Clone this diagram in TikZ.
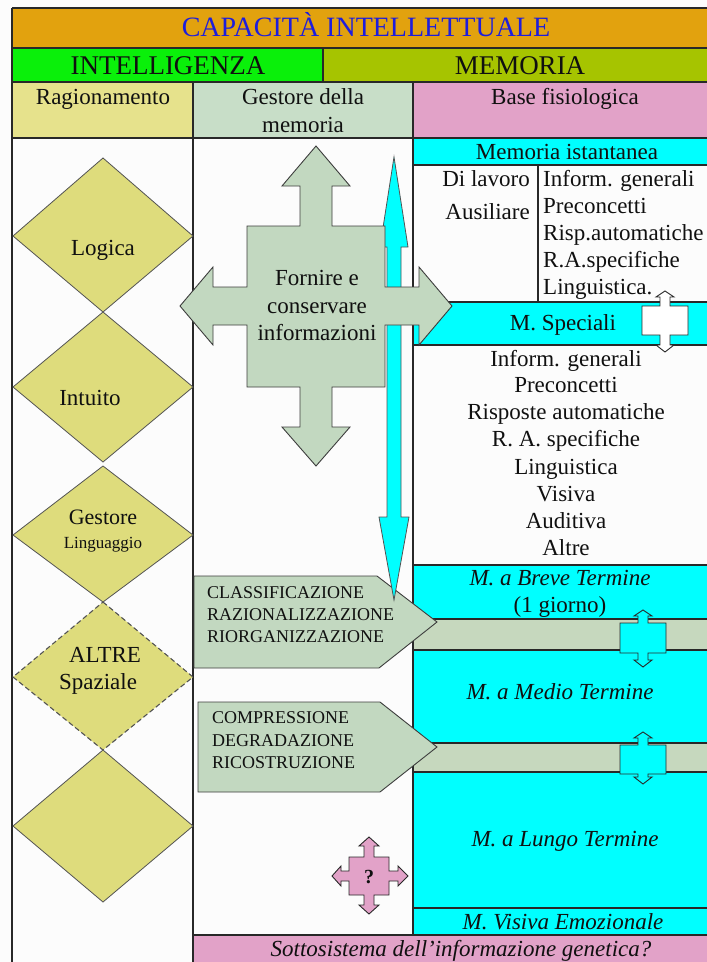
\documentclass[tikz,border=0pt]{standalone}
\usepackage{fontspec}
\setmainfont{Liberation Serif}
\definecolor{orangeT}{RGB}{226,162,14}
\definecolor{greenI}{RGB}{10,240,10}
\definecolor{oliveM}{RGB}{166,196,0}
\definecolor{khaki}{RGB}{230,226,140}
\definecolor{sage}{RGB}{200,222,200}
\definecolor{pinkB}{RGB}{226,162,200}
\definecolor{diaF}{RGB}{222,220,124}
\definecolor{arrG}{RGB}{194,216,192}
\definecolor{bandG}{RGB}{198,216,190}
\definecolor{cyanC}{RGB}{0,255,255}
\definecolor{lineC}{RGB}{40,40,40}
\definecolor{txtC}{RGB}{16,16,16}
\definecolor{titleC}{RGB}{30,30,220}
\definecolor{bgC}{RGB}{252,252,252}
\newcommand\fA{\fontsize{23}{27}\selectfont}
\newcommand\fB{\fontsize{18}{21}\selectfont}
\newcommand\udcall[6]{\draw[#1] (#2,#3) -- ({#2+9},{#3+6}) -- ({#2+5},{#3+6}) -- ({#2+5},#4) -- ({#2+23},#4) -- ({#2+23},#5) -- ({#2+5},#5) -- ({#2+5},{#6-7}) -- ({#2+9},{#6-7}) -- (#2,#6) -- ({#2-9},{#6-7}) -- ({#2-5},{#6-7}) -- ({#2-5},#5) -- ({#2-23},#5) -- ({#2-23},#4) -- ({#2-5},#4) -- ({#2-5},{#3+6}) -- ({#2-9},{#3+6}) -- cycle;}
\begin{document}
\begin{tikzpicture}[x=1pt,y=-1pt,
  ln/.style={draw=lineC, line width=1.2pt},
  dia/.style={draw=lineC!80, line width=0.8pt, fill=diaF},
  shp/.style={draw=lineC!90, line width=0.9pt, fill=arrG},
  lbl/.style={inner sep=0pt, anchor=center, text height=14pt, text depth=0pt, font=\fA, text=txtC},
  lbll/.style={lbl, anchor=west},
  lblr/.style={lbl, anchor=east},
  ital/.style={lbl, font=\fA\itshape},
  caps/.style={inner sep=0pt, anchor=west, text height=12pt, text depth=0pt, font=\fB, text=txtC},
  hdr/.style={inner sep=0pt, anchor=center, text height=18pt, text depth=0pt, font=\fontsize{27}{30}\selectfont, text=txtC}
]
\useasboundingbox (0,0) rectangle (707,962);
\fill[bgC] (0,0) rectangle (707,962);
% header fills
\fill[orangeT] (12,8) rectangle (707,48);
\fill[greenI] (12,48) rectangle (323,82);
\fill[oliveM] (323,48) rectangle (707,82);
\fill[khaki] (12,82) rectangle (193,138);
\fill[sage] (193,82) rectangle (413,138);
\fill[pinkB] (413,82) rectangle (707,138);
% right column fills
\fill[cyanC] (413,138) rectangle (707,165);
\fill[cyanC] (413,302) rectangle (707,345);
\fill[cyanC] (413,565) rectangle (707,935);
\fill[bandG] (413,619) rectangle (707,650);
\fill[bandG] (413,743) rectangle (707,772);
\fill[pinkB] (193,935) rectangle (707,962);
% lines
\draw[ln] (12,8) -- (707,8);
\draw[ln] (12,48) -- (707,48);
\draw[ln] (12,82) -- (707,82);
\draw[ln] (12,138) -- (707,138);
\draw[ln] (12,8) -- (12,962);
\draw[ln] (323,48) -- (323,82);
\draw[ln] (193,82) -- (193,962);
\draw[ln] (413,82) -- (413,935);
\draw[ln] (413,165) -- (707,165);
\draw[ln] (538,165) -- (538,302);
\draw[ln] (413,302) -- (707,302);
\draw[ln] (413,345) -- (707,345);
\draw[ln] (413,565) -- (707,565);
\draw[ln] (413,619) -- (707,619);
\draw[ln] (413,650) -- (707,650);
\draw[ln] (413,743) -- (707,743);
\draw[ln] (413,772) -- (707,772);
\draw[ln] (413,908) -- (707,908);
\draw[ln] (193,935) -- (707,935);
% diamonds
\draw[dia] (103,158) -- (193,236) -- (103,312) -- (13,236) -- cycle;
\draw[dia] (103,312) -- (193,387) -- (103,462) -- (13,387) -- cycle;
\draw[dia] (103,466) -- (193,535) -- (103,602) -- (13,535) -- cycle;
\draw[dia, line width=1.1pt, dash pattern=on 5pt off 3pt] (103,602) -- (193,677) -- (103,750) -- (13,677) -- cycle;
\draw[dia] (103,750) -- (193,826) -- (103,902) -- (13,826) -- cycle;
% pentagons
\draw[shp] (194,576) -- (377,576) -- (437,622) -- (379,668) -- (194,668) -- cycle;
\draw[shp] (198,702) -- (380,702) -- (437,747) -- (380,792) -- (198,792) -- cycle;
% callouts
\udcall{draw=lineC, line width=0.9pt, fill=white}{665}{291}{306}{335}{352}
\udcall{draw=lineC, line width=0.9pt, fill=cyanC}{643}{610}{623}{653}{667}
\udcall{draw=lineC, line width=0.9pt, fill=cyanC}{643}{732}{745}{774}{784}
% cyan double arrow
\draw[draw=lineC!80, line width=0.8pt, fill=cyanC] (394,157) -- (408,247) -- (401,247) -- (401,517) -- (409,517) -- (394,600) -- (379,517) -- (387,517) -- (387,247) -- (380,247) -- cycle;
% big green 4-way arrow
\draw[shp] (316,146) -- (350,186) -- (332,186) -- (332,226) -- (385,226) -- (385,287) -- (419,287) -- (419,267) -- (452,306) -- (419,345) -- (419,325) -- (385,325) -- (385,387) -- (332,387) -- (332,427) -- (350,427) -- (316,466) -- (282,427) -- (300,427) -- (300,387) -- (247,387) -- (247,325) -- (213,325) -- (213,345) -- (180,306) -- (213,267) -- (213,287) -- (247,287) -- (247,226) -- (300,226) -- (300,186) -- (282,186) -- cycle;
% pink ? arrow
\draw[draw=lineC, line width=0.9pt, fill=pinkB] (369,837) -- (379,846) -- (374,846) -- (374,857) -- (389,857) -- (389,871) -- (398,871) -- (398,866) -- (408,876) -- (398,886) -- (398,881) -- (389,881) -- (389,895) -- (374,895) -- (374,905) -- (379,905) -- (369,914) -- (359,905) -- (364,905) -- (364,895) -- (349,895) -- (349,881) -- (341,881) -- (341,886) -- (332,876) -- (341,866) -- (341,871) -- (349,871) -- (349,857) -- (364,857) -- (364,846) -- (359,846) -- cycle;
% texts
\node[hdr, text=titleC, font=\fontsize{28}{30}\selectfont] (title) at (366,27) {CAPACITÀ INTELLETTUALE};
\node[hdr] (intel) at (168,65) {INTELLIGENZA};
\node[hdr] (memo) at (520,65) {MEMORIA};
\node[lbl] (rag) at (103,97) {Ragionamento};
\node[lbl] (gest1) at (303,97) {Gestore della};
\node[lbl] (gest2) at (303,125) {memoria};
\node[lbl] (base) at (565,97) {Base fisiologica};
\node[lbl] (ist) at (567,152) {Memoria istantanea};
\node[lblr] (dilav) at (530,179) {Di lavoro};
\node[lblr] (ausil) at (530,212) {Ausiliare};
\node[lbll] (ia) at (543,179) {Inform. generali};
\node[lbll] (ib) at (543,206) {Preconcetti};
\node[lbll] (ic) at (543,233) {Risp.automatiche};
\node[lbll] (id) at (543,260) {R.A.specifiche};
\node[lbll] (ie) at (543,287) {Linguistica.};
\node[lbl] (spec) at (563,323) {M. Speciali};
\node[lbl] (sa) at (566,359) {Inform. generali};
\node[lbl] (sb) at (566,385) {Preconcetti};
\node[lbl] (sc) at (566,412) {Risposte automatiche};
\node[lbl] (sd) at (566,439) {R. A. specifiche};
\node[lbl] (se) at (566,467) {Linguistica};
\node[lbl] (sf) at (566,494) {Visiva};
\node[lbl] (sg) at (566,521) {Auditiva};
\node[lbl] (sh) at (566,548) {Altre};
\node[ital] (breve) at (560,578) {M. a Breve Termine};
\node[lbl] (giorno) at (560,605) {(1 giorno)};
\node[ital] (medio) at (560,692) {M. a Medio Termine};
\node[ital] (lungo) at (565,839) {M. a Lungo Termine};
\node[ital] (visiva) at (563,922) {M. Visiva Emozionale};
\node[ital] (sotto) at (461,949) {Sottosistema dell’informazione genetica?};
\node[lbl] (logica) at (103,248) {Logica};
\node[lbl] (intuito) at (90,398) {Intuito};
\node[lbl, font=\fontsize{22}{26}\selectfont] (gling1) at (103,517) {Gestore};
\node[lbl, font=\fontsize{17}{20}\selectfont, text height=11pt] (gling2) at (103,543) {Linguaggio};
\node[lbl] (altre) at (105,655) {ALTRE};
\node[lbl] (spaz) at (98,682) {Spaziale};
\node[lbl] (forn1) at (317,278) {Fornire e};
\node[lbl] (forn2) at (317,306) {conservare};
\node[lbl] (forn3) at (317,333) {informazioni};
\node[caps] (p1a) at (207,592) {CLASSIFICAZIONE};
\node[caps] (p1b) at (207,614) {RAZIONALIZZAZIONE};
\node[caps] (p1c) at (207,636) {RIORGANIZZAZIONE};
\node[caps] (p2a) at (212,717) {COMPRESSIONE};
\node[caps] (p2b) at (212,740) {DEGRADAZIONE};
\node[caps] (p2c) at (212,762) {RICOSTRUZIONE};
\node[lbl, font=\fontsize{20}{22}\selectfont\bfseries, text height=13pt] (qm) at (369,877) {?};
\end{tikzpicture}
\end{document}
